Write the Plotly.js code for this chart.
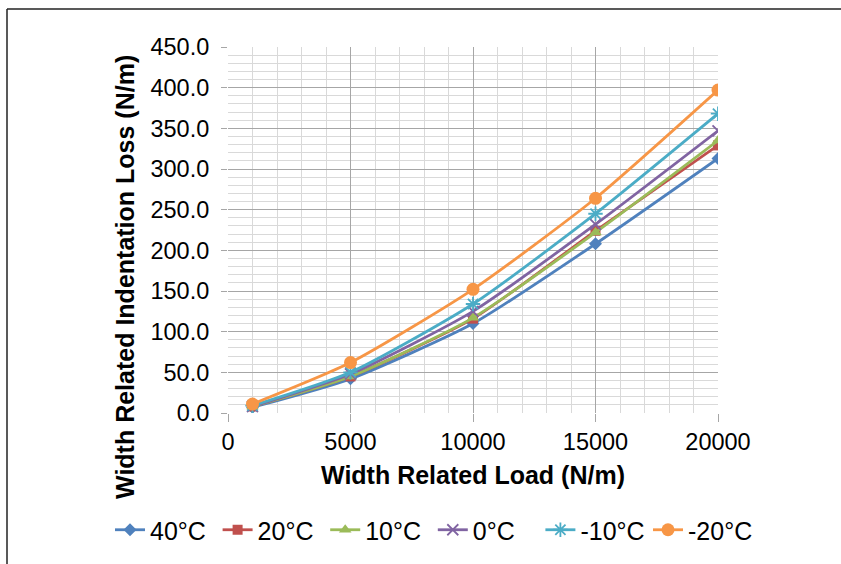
<!DOCTYPE html>
<html>
<head>
<meta charset="utf-8">
<script src="https://cdn.plot.ly/plotly-3.0.1.min.js"></script>
<style>
html,body{margin:0;padding:0;background:#fff;}
#chart{width:841px;height:564px;}
</style>
</head>
<body>
<div id="chart"></div>
<script>
const loads = [1000, 5000, 10000, 15000, 20000];
const seriesNames = ["40°C", "20°C", "10°C", "0°C", "-10°C", "-20°C"];
const loss40 = [7, 42, 110, 208, 313];
const loss20 = [8, 45, 116, 224, 329];
const loss10 = [8, 45, 117, 222, 335];
const loss0 = [8, 48, 125, 232, 347];
const lossM10 = [9, 50, 134, 245, 368];
const lossM20 = [11, 62, 152, 264, 397];
const yTickVals = [0, 50, 100, 150, 200, 250, 300, 350, 400, 450];
const xTickVals = [0, 5000, 10000, 15000, 20000];
const xTitle = "Width Related Load (N/m)";
const yTitle = "Width Related Indentation Loss (N/m)";

const allLoss = [loss40, loss20, loss10, loss0, lossM10, lossM20];
const colors = ["#4F81BD", "#C0504D", "#9BBB59", "#8064A2", "#4BACC6", "#F79646"];
const symbols = ["diamond", "square", "triangle-up", "x-thin-open", "asterisk-open", "circle"];
const sizes = [10, 10, 11, 11, 12, 13];

const traces = allLoss.map((ys, i) => ({
  x: loads, y: ys, name: seriesNames[i], type: "scatter", mode: "lines+markers",
  line: {color: colors[i], width: 2.8, shape: "spline", smoothing: 0.6},
  marker: {symbol: symbols[i], size: sizes[i], color: colors[i],
           line: {color: colors[i], width: (i === 3 || i === 4) ? 1.8 : 0}}
}));

const font = "Arial, 'Liberation Sans', sans-serif";
const layout = {
  width: 841, height: 564,
  margin: {l: 228, r: 123, t: 47, b: 151, autoexpand: false},
  paper_bgcolor: "#ffffff", plot_bgcolor: "#ffffff",
  font: {family: font, color: "#000"},
  showlegend: true,
  legend: {orientation: "h", xref: "paper", x: (110 - 228) / 490, xanchor: "left", yref: "paper", y: (413 - 530) / 366, yanchor: "middle",
           entrywidth: 62.6, entrywidthmode: "pixels",
           font: {size: 25, family: font, color: "#000"}, tracegroupgap: 0},
  xaxis: {
    range: [0, 20000], tickvals: xTickVals, ticktext: xTickVals.map(String),
    showgrid: true, gridcolor: "#a6a6a6", gridwidth: 1,
    minor: {dtick: 1000, showgrid: true, gridcolor: "#d9d9d9", gridwidth: 1},
    ticks: "outside", ticklen: 8, tickcolor: "#a6a6a6",
    showline: false, zeroline: false,
    tickfont: {size: 23.5, family: font, color: "#000"},
    title: {text: "<b>" + xTitle + "</b>", font: {size: 25, family: font, color: "#000"}, standoff: 12},
    fixedrange: true
  },
  yaxis: {
    range: [0, 450], tickvals: yTickVals, ticktext: yTickVals.map(v => v.toFixed(1)),
    showgrid: true, gridcolor: "#a6a6a6", gridwidth: 1,
    minor: {dtick: 10, showgrid: true, gridcolor: "#d9d9d9", gridwidth: 1},
    ticks: "outside", ticklen: 6, tickcolor: "#a6a6a6", ticklabelstandoff: 7,
    showline: false, zeroline: false,
    tickfont: {size: 23.5, family: font, color: "#000"},
    fixedrange: true
  },
  annotations: [
    {text: "<b>" + yTitle + "</b>", xref: "paper", yref: "paper", x: (125 - 228) / 490, y: (413 - 277) / 366,
     xanchor: "center", yanchor: "middle", textangle: -90, showarrow: false,
     font: {size: 25, family: font, color: "#000"}}
  ],
  shapes: [
    {type: "line", xref: "paper", yref: "paper", x0: (7 - 228) / 490, x1: (900 - 228) / 490,
     y0: (413 - 9) / 366, y1: (413 - 9) / 366, line: {color: "#222", width: 1.5}},
    {type: "line", xref: "paper", yref: "paper", x0: (7 - 228) / 490, x1: (7 - 228) / 490,
     y0: (413 - 9) / 366, y1: (413 - 600) / 366, line: {color: "#222", width: 1.5}}
  ]
};

Plotly.newPlot("chart", traces, layout, {displayModeBar: false, staticPlot: true});
</script>
</body>
</html>
